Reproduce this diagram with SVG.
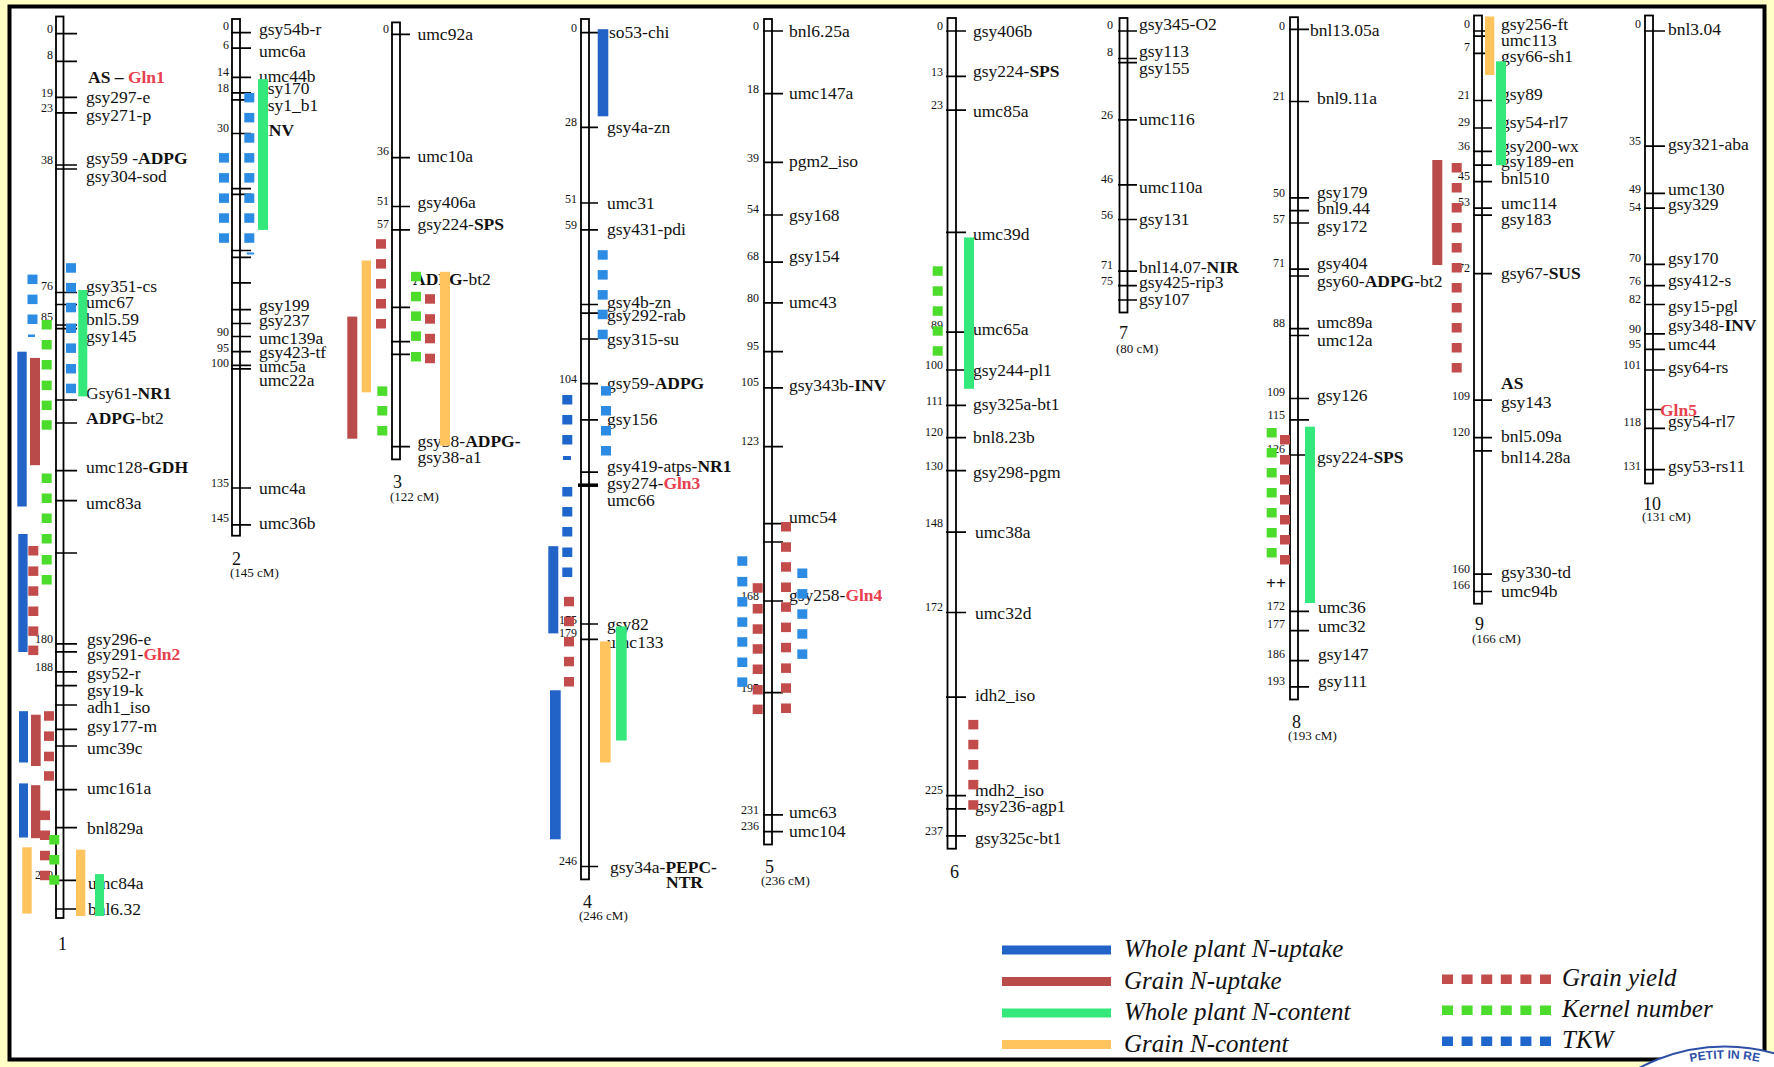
<svg xmlns="http://www.w3.org/2000/svg" width="1774" height="1067" viewBox="0 0 1774 1067">
<style>
.chr{fill:#fff;stroke:#000;stroke-width:1.8}
.tk{stroke:#000;stroke-width:1.7;fill:none}
text{font-family:"Liberation Serif","Times New Roman",serif;fill:#111}
.lb{font-size:17.5px}
.nm{font-size:12px;text-anchor:end}
.cn{font-size:18px}
.cm{font-size:13px}
.b{font-weight:bold}
.r{fill:#E8404E;font-weight:bold}
.wu{fill:#2163C6}
.gu{fill:#B94B4B}
.wc{fill:#34E87C}
.gc{fill:#FFC45E}
.gy{fill:#C24B4B}
.kn{fill:#4CDC2C}
.tw{fill:#2C8CE4}
.tw2{fill:#1F66CC}
.lg{font-size:25px;font-style:italic}
</style>
<defs>
<rect id="sq" width="10" height="9.5"/>
<rect id="lsq" width="11" height="9.5"/>
</defs>
<rect x="0" y="0" width="1774" height="1067" fill="#FFFFC6"/>
<rect x="9.5" y="6.5" width="1755" height="1053" fill="#fff" stroke="#000" stroke-width="4"/>

<g id="chr1">
<rect class="chr" x="56" y="16.5" width="7.5" height="901.5"/>
<path class="tk" d="M55 33.7H77M55 61.3H77M55 97.4H77M55 112.9H77M55 165H77M55 169H77M55 292.5H77M55 304.5H77M55 325H77M55 328.6H77M55 400H77M55 423H77M55 470.7H77M55 500.7H77M55 553H77M55 643.9H77M55 651.9H77M55 671.8H77M55 685.7H77M55 705H77M55 729.4H77M55 746H77M55 789.7H77M55 827.7H77M55 880.4H77M55 909H77"/>
<g class="nm">
<text x="53" y="33">0</text><text x="53" y="59">8</text><text x="53" y="97">19</text><text x="53" y="112.4">23</text><text x="53" y="164">38</text><text x="53" y="289.6">76</text><text x="53" y="321">85</text><text x="53" y="643">180</text><text x="53" y="670.5">188</text><text x="53" y="879">200</text>
</g>
<g class="lb">
<text x="88" y="83.4" class="b">AS – <tspan class="r">Gln1</tspan></text>
<text x="86" y="103.4">gsy297-e</text>
<text x="86" y="121.3">gsy271-p</text>
<text x="86" y="164.3">gsy59 -<tspan class="b">ADPG</tspan></text>
<text x="86" y="182.2">gsy304-sod</text>
<text x="86" y="291.6">gsy351-cs</text>
<text x="86" y="308">umc67</text>
<text x="86" y="325.3">bnl5.59</text>
<text x="86" y="341.5">gsy145</text>
<text x="86" y="399">Gsy61-<tspan class="b">NR1</tspan></text>
<text x="86" y="424"><tspan class="b">ADPG</tspan>-bt2</text>
<text x="86" y="473.3">umc128-<tspan class="b">GDH</tspan></text>
<text x="86" y="509">umc83a</text>
<text x="87" y="644.6">gsy296-e</text>
<text x="87" y="660.3">gsy291-<tspan class="r">Gln2</tspan></text>
<text x="87" y="678.5">gsy52-r</text>
<text x="87" y="696">gsy19-k</text>
<text x="87" y="712.7">adh1_iso</text>
<text x="87" y="731.9">gsy177-m</text>
<text x="87" y="753.5">umc39c</text>
<text x="87" y="794">umc161a</text>
<text x="87" y="833.7">bnl829a</text>
<text x="88" y="888.9">umc84a</text>
<text x="88" y="915">bnl6.32</text>
</g>
<text x="58" y="950" class="cn">1</text>
<use href="#sq" class="tw" x="66" y="263.2"/><use href="#sq" class="tw" x="66" y="282.9"/><use href="#sq" class="tw" x="66" y="302.8"/><use href="#sq" class="tw" x="66" y="323.5"/><use href="#sq" class="tw" x="66" y="343.4"/><use href="#sq" class="tw" x="66" y="364"/><use href="#sq" class="tw" x="66" y="383.7"/>
<use href="#sq" class="tw" x="27.5" y="274.6"/><use href="#sq" class="tw" x="27.5" y="294.6"/><use href="#sq" class="tw" x="27.5" y="314.5"/><rect class="tw" x="28" y="334.5" width="7" height="2.5"/>
<rect class="wc" x="78.3" y="290" width="9" height="106.4"/>
<use href="#sq" class="kn" x="41.7" y="320"/><use href="#sq" class="kn" x="41.7" y="340"/><use href="#sq" class="kn" x="41.7" y="360"/><use href="#sq" class="kn" x="41.7" y="380.6"/><use href="#sq" class="kn" x="41.7" y="400.6"/><use href="#sq" class="kn" x="41.7" y="420.2"/><use href="#sq" class="kn" x="41.7" y="473.5"/><use href="#sq" class="kn" x="41.7" y="493.5"/><use href="#sq" class="kn" x="41.7" y="513.5"/><use href="#sq" class="kn" x="41.7" y="534"/><use href="#sq" class="kn" x="41.7" y="555"/><use href="#sq" class="kn" x="41.7" y="575"/>
<rect class="wu" x="17.3" y="351.7" width="9.4" height="154.8"/>
<rect class="gu" x="30" y="357.9" width="10" height="107.3"/>
<rect class="wu" x="18.3" y="534" width="9.3" height="118"/>
<use href="#sq" class="gy" x="28.3" y="546"/><use href="#sq" class="gy" x="28.3" y="566.4"/><use href="#sq" class="gy" x="28.3" y="586.3"/><use href="#sq" class="gy" x="28.3" y="606.5"/><use href="#sq" class="gy" x="28.3" y="626.4"/><use href="#sq" class="gy" x="28.3" y="645.6"/>
<rect class="wu" x="19" y="711.2" width="9" height="51.3"/>
<rect class="gu" x="31" y="714.7" width="9.7" height="51.3"/>
<use href="#sq" class="gy" x="44" y="711.2"/><use href="#sq" class="gy" x="44" y="731.4"/><use href="#sq" class="gy" x="44" y="751.7"/><use href="#sq" class="gy" x="44" y="771.2"/>
<rect class="wu" x="19" y="783.4" width="9" height="54.1"/>
<rect class="gu" x="31" y="785.2" width="9.3" height="53"/>
<use href="#sq" class="gy" x="40" y="810.6"/><use href="#sq" class="gy" x="40" y="830.5"/><use href="#sq" class="gy" x="40" y="850.8"/><use href="#sq" class="gy" x="40" y="870.7"/>
<use href="#sq" class="kn" x="49.3" y="835"/><use href="#sq" class="kn" x="49.3" y="855"/><use href="#sq" class="kn" x="49.3" y="875.2"/>
<rect class="gc" x="22.3" y="847.3" width="9.4" height="66.3"/>
<rect class="gc" x="76" y="849.7" width="9.3" height="66.3"/>
<rect class="wc" x="95" y="874.1" width="9" height="41.9"/>
</g>

<g id="chr2">
<rect class="chr" x="232" y="19" width="8" height="516.7"/>
<path class="tk" d="M231 32.7H251M231 48.2H251M231 77.4H251M231 92.9H251M231 99.8H251M231 133.5H251M231 188.6H251M231 194.4H251M231 250.5H251M231 257.4H251M231 282.9H251M231 309.7H251M231 323.5H251M231 336.5H251M231 351.7H251M231 365.4H251M231 368.9H251M231 488H251M231 524.8H251"/>
<g class="nm">
<text x="229" y="29.8">0</text><text x="229" y="48.7">6</text><text x="229" y="76.3">14</text><text x="229" y="91.7">18</text><text x="229" y="132">30</text><text x="229" y="336">90</text><text x="229" y="351.6">95</text><text x="229" y="367">100</text><text x="229" y="486.8">135</text><text x="229" y="521.9">145</text>
</g>
<g class="lb">
<text x="259" y="34.8">gsy54b-r</text>
<text x="259" y="56.5">umc6a</text>
<text x="259" y="81.9">umc44b</text>
<text x="259" y="94.3">gsy170</text>
<text x="259" y="110.5">gsy1_b1</text>
<text x="262" y="135.5" class="b">INV</text>
<text x="259" y="311">gsy199</text>
<text x="259" y="325.5">gsy237</text>
<text x="259" y="343.5">umc139a</text>
<text x="259" y="358.2">gsy423-tf</text>
<text x="259" y="372">umc5a</text>
<text x="259" y="385.7">umc22a</text>
<text x="259" y="493.5">umc4a</text>
<text x="259" y="529.2">umc36b</text>
</g>
<text x="232" y="565" class="cn">2</text>
<text x="230" y="577" class="cm">(145 cM)</text>
<rect class="wc" x="258" y="79.1" width="10" height="150.8"/>
<use href="#sq" class="tw" x="244.3" y="92.9"/><use href="#sq" class="tw" x="244.3" y="112.9"/><use href="#sq" class="tw" x="244.3" y="133.2"/><use href="#sq" class="tw" x="244.3" y="153.1"/><use href="#sq" class="tw" x="244.3" y="173.1"/><use href="#sq" class="tw" x="244.3" y="193.4"/><use href="#sq" class="tw" x="244.3" y="213.3"/><use href="#sq" class="tw" x="244.3" y="233.3"/>
<use href="#sq" class="tw" x="219" y="153.1"/><use href="#sq" class="tw" x="219" y="173.1"/><use href="#sq" class="tw" x="219" y="193.4"/><use href="#sq" class="tw" x="219" y="213.3"/><use href="#sq" class="tw" x="219" y="233.3"/>
<rect class="tw" x="246.7" y="252.5" width="7.5" height="2"/>
</g>

<g id="chr3">
<rect class="chr" x="392" y="22.4" width="8" height="437"/>
<path class="tk" d="M391 34.4H410M391 157.6H410M391 206.5H410M391 229.9H410M391 307.3H410M391 341.7H410M391 354.4H410M391 446.7H410"/>
<g class="nm">
<text x="389" y="33">0</text><text x="389" y="155.4">36</text><text x="389" y="205.3">51</text><text x="389" y="228.4">57</text>
</g>
<g class="lb">
<text x="417.5" y="39.9">umc92a</text>
<text x="417.5" y="162.1">umc10a</text>
<text x="417.5" y="207.8">gsy406a</text>
<text x="417.5" y="229.9">gsy224-<tspan class="b">SPS</tspan></text>
<text x="413" y="284.9"><tspan class="b">ADPG</tspan>-bt2</text>
<text x="417.5" y="446.7">gsy38-<tspan class="b">ADPG-</tspan></text>
<text x="417.5" y="463.2">gsy38-a1</text>
</g>
<text x="393" y="488" class="cn">3</text>
<text x="390" y="501" class="cm">(122 cM)</text>
<use href="#sq" class="gy" x="376" y="239.2"/><use href="#sq" class="gy" x="376" y="259.1"/><use href="#sq" class="gy" x="376" y="279"/><use href="#sq" class="gy" x="376" y="299"/><use href="#sq" class="gy" x="376" y="319"/>
<rect class="gc" x="361.7" y="260.5" width="9.3" height="131.8"/>
<rect class="gu" x="347.3" y="316.6" width="10" height="122.1"/>
<use href="#sq" class="kn" x="377.3" y="386.4"/><use href="#sq" class="kn" x="377.3" y="406"/><use href="#sq" class="kn" x="377.3" y="426"/>
<use href="#sq" class="kn" x="411" y="271.8"/><use href="#sq" class="kn" x="411" y="291.8"/><use href="#sq" class="kn" x="411" y="311.4"/><use href="#sq" class="kn" x="411" y="331.4"/><use href="#sq" class="kn" x="411" y="352"/>
<use href="#sq" class="gy" x="425" y="294.2"/><use href="#sq" class="gy" x="425" y="314.2"/><use href="#sq" class="gy" x="425" y="333.8"/><use href="#sq" class="gy" x="425" y="353.7"/>
<rect class="gc" x="440" y="271.8" width="10" height="173.8"/>
</g>

<g id="chr4">
<rect class="chr" x="581" y="19" width="8" height="860.4"/>
<path class="tk" d="M580 32.7H598M580 127.3H598M580 203H598M580 229.9H598M580 304.5H598M580 313.1H598M580 339H598M580 383.7H598M580 419.8H598M580 472.1H598M580 624H598M580 639.3H598M580 866.5H598"/>
<path d="M578 485.2H598" stroke="#000" stroke-width="3.5"/>
<g class="nm">
<text x="577" y="31.5">0</text><text x="577" y="126">28</text><text x="577" y="203">51</text><text x="577" y="229.4">59</text><text x="577" y="382.5">104</text><text x="577" y="624">175</text><text x="577" y="637.4">179</text><text x="577" y="865">246</text>
</g>
<g class="lb">
<text x="609" y="38.2">so53-chi</text>
<text x="607" y="132.8">gsy4a-zn</text>
<text x="607" y="208.5">umc31</text>
<text x="607" y="235.4">gsy431-pdi</text>
<text x="607" y="308.3">gsy4b-zn</text>
<text x="607" y="321.4">gsy292-rab</text>
<text x="607" y="344.5">gsy315-su</text>
<text x="607" y="389.2">gsy59-<tspan class="b">ADPG</tspan></text>
<text x="607" y="425.3">gsy156</text>
<text x="607" y="471.8">gsy419-atps-<tspan class="b">NR1</tspan></text>
<text x="607" y="489">gsy274-<tspan class="r">Gln3</tspan></text>
<text x="607" y="506.2">umc66</text>
<text x="607" y="629.5">gsy82</text>
<text x="607" y="647.6">umc133</text>
<text x="610" y="872.7">gsy34a-<tspan class="b">PEPC-</tspan></text>
<text x="666" y="888.4" class="b">NTR</text>
</g>
<text x="583" y="908" class="cn">4</text>
<text x="579" y="920" class="cm">(246 cM)</text>
<rect class="wu" x="597.7" y="29.2" width="10.6" height="87.1"/>
<use href="#sq" class="tw" x="597.7" y="250.2"/><use href="#sq" class="tw" x="597.7" y="270.1"/><use href="#sq" class="tw" x="597.7" y="290.1"/><use href="#sq" class="tw" x="597.7" y="309.7"/><use href="#sq" class="tw" x="597.7" y="329.7"/>
<use href="#sq" class="tw" x="601" y="386.1"/><use href="#sq" class="tw" x="601" y="406"/><use href="#sq" class="tw" x="601" y="426"/><use href="#sq" class="tw" x="601" y="446"/>
<use href="#sq" class="tw2" x="562.3" y="395"/><use href="#sq" class="tw2" x="562.3" y="415"/><use href="#sq" class="tw2" x="562.3" y="435"/><rect class="tw2" x="563" y="456" width="8" height="4"/><use href="#sq" class="tw2" x="562.3" y="487"/><use href="#sq" class="tw2" x="562.3" y="507"/><use href="#sq" class="tw2" x="562.3" y="527"/><use href="#sq" class="tw2" x="562.3" y="547.5"/><use href="#sq" class="tw2" x="562.3" y="567.5"/>
<rect class="wu" x="548.3" y="546.2" width="10" height="87.2"/>
<use href="#sq" class="gy" x="564" y="596.8"/><use href="#sq" class="gy" x="564" y="616.7"/><use href="#sq" class="gy" x="564" y="636.9"/><use href="#sq" class="gy" x="564" y="656.8"/><use href="#sq" class="gy" x="564" y="677"/>
<rect class="wu" x="550" y="690.3" width="10.7" height="149"/>
<rect class="gc" x="600" y="641.4" width="10.7" height="121.1"/>
<rect class="wc" x="616" y="626.4" width="10.7" height="114.1"/>
</g>

<g id="chr5">
<rect class="chr" x="764" y="19" width="8" height="825.5"/>
<path class="tk" d="M763 31H783M763 93.6H783M763 162.4H783M763 215H783M763 262.2H783M763 302.8H783M763 351.7H783M763 387.8H783M763 446.7H783M763 523.7H783M763 542H783M763 601H783M763 692.7H783M763 814.8H783M763 831.6H783"/>
<g class="nm">
<text x="759" y="29.8">0</text><text x="759" y="92.8">18</text><text x="759" y="162.3">39</text><text x="759" y="213.2">54</text><text x="759" y="260.4">68</text><text x="759" y="301.7">80</text><text x="759" y="349.8">95</text><text x="759" y="386">105</text><text x="759" y="445.2">123</text><text x="759" y="600">168</text><text x="759" y="692.2">195</text><text x="759" y="813.6">231</text><text x="759" y="830.4">236</text>
</g>
<g class="lb">
<text x="789" y="36.5">bnl6.25a</text>
<text x="789" y="99.1">umc147a</text>
<text x="789" y="167.2">pgm2_iso</text>
<text x="789" y="220.5">gsy168</text>
<text x="789" y="261.9">gsy154</text>
<text x="789" y="307.5">umc43</text>
<text x="789" y="390.9">gsy343b-<tspan class="b">INV</tspan></text>
<text x="789" y="523.4">umc54</text>
<text x="789" y="600.5">gsy258-<tspan class="r">Gln4</tspan></text>
<text x="789" y="817.9">umc63</text>
<text x="789" y="836.7">umc104</text>
</g>
<text x="765" y="873" class="cn">5</text>
<text x="761" y="885" class="cm">(236 cM)</text>
<use href="#sq" class="gy" x="781" y="522"/><use href="#sq" class="gy" x="781" y="542.3"/><use href="#sq" class="gy" x="781" y="562.2"/><use href="#sq" class="gy" x="781" y="582.5"/><use href="#sq" class="gy" x="781" y="602.3"/><use href="#sq" class="gy" x="781" y="622.6"/><use href="#sq" class="gy" x="781" y="642.8"/><use href="#sq" class="gy" x="781" y="663.4"/><use href="#sq" class="gy" x="781" y="683.3"/><use href="#sq" class="gy" x="781" y="703.5"/>
<use href="#sq" class="gy" x="752.7" y="583.2"/><use href="#sq" class="gy" x="752.7" y="604"/><use href="#sq" class="gy" x="752.7" y="624.3"/><use href="#sq" class="gy" x="752.7" y="644.2"/><use href="#sq" class="gy" x="752.7" y="664.5"/><use href="#sq" class="gy" x="752.7" y="685"/><use href="#sq" class="gy" x="752.7" y="704.6"/>
<use href="#sq" class="tw" x="737.3" y="556.3"/><use href="#sq" class="tw" x="737.3" y="576.9"/><use href="#sq" class="tw" x="737.3" y="597.1"/><use href="#sq" class="tw" x="737.3" y="617.3"/><use href="#sq" class="tw" x="737.3" y="637.2"/><use href="#sq" class="tw" x="737.3" y="657.5"/><use href="#sq" class="tw" x="737.3" y="677.4"/>
<use href="#sq" class="tw" x="797.3" y="568.5"/><use href="#sq" class="tw" x="797.3" y="589.1"/><use href="#sq" class="tw" x="797.3" y="609.3"/><use href="#sq" class="tw" x="797.3" y="629.2"/><use href="#sq" class="tw" x="797.3" y="649.4"/>
</g>

<g id="chr6">
<rect class="chr" x="947.5" y="18" width="8.5" height="830.7"/>
<path class="tk" d="M946 31H966M946 76.4H966M946 110.1H966M946 232.3H966M946 332.1H966M946 370H966M946 405.4H966M946 437.7H966M946 470.7H966M946 532.2H966M946 612.5H966M946 697.2H966M946 795.6H966M946 808.9H966M946 835.8H966"/>
<g class="nm">
<text x="943" y="29.8">0</text><text x="943" y="75.6">13</text><text x="943" y="109">23</text><text x="943" y="329.2">89</text><text x="943" y="368.8">100</text><text x="943" y="404.9">111</text><text x="943" y="435.9">120</text><text x="943" y="470.3">130</text><text x="943" y="527">148</text><text x="943" y="611.2">172</text><text x="943" y="794.4">225</text><text x="943" y="834.5">237</text>
</g>
<g class="lb">
<text x="973" y="36.5">gsy406b</text>
<text x="973" y="77.1">gsy224-<tspan class="b">SPS</tspan></text>
<text x="973" y="117.3">umc85a</text>
<text x="973" y="239.5">umc39d</text>
<text x="973" y="335.2">umc65a</text>
<text x="973" y="375.5">gsy244-pl1</text>
<text x="973" y="409.8">gsy325a-bt1</text>
<text x="973" y="443.2">bnl8.23b</text>
<text x="973" y="477.6">gsy298-pgm</text>
<text x="975" y="537.7">umc38a</text>
<text x="975" y="619">umc32d</text>
<text x="975" y="700.7">idh2_iso</text>
<text x="975" y="795.9">mdh2_iso</text>
<text x="975" y="812.3">gsy236-agp1</text>
<text x="975" y="843.7">gsy325c-bt1</text>
</g>
<text x="950" y="878" class="cn">6</text>
<rect class="wc" x="964" y="237.4" width="10" height="151.4"/>
<use href="#sq" class="kn" x="932.7" y="266.3"/><use href="#sq" class="kn" x="932.7" y="286.3"/><use href="#sq" class="kn" x="932.7" y="306.3"/><use href="#sq" class="kn" x="932.7" y="326.2"/><use href="#sq" class="kn" x="932.7" y="346.2"/>
<use href="#sq" class="gy" x="968.3" y="719.9"/><use href="#sq" class="gy" x="968.3" y="739.8"/><use href="#sq" class="gy" x="968.3" y="760"/><use href="#sq" class="gy" x="968.3" y="779.9"/><use href="#sq" class="gy" x="968.3" y="800.2"/>
</g>

<g id="chr7">
<rect class="chr" x="1119.5" y="18" width="8" height="294.5"/>
<path class="tk" d="M1118 31H1137M1118 58.5H1137M1118 62.6H1137M1118 119.8H1137M1118 184.8H1137M1118 219.5H1137M1118 271.2H1137M1118 285.6H1137M1118 300H1137"/>
<g class="nm">
<text x="1113" y="28.8">0</text><text x="1113" y="56.3">8</text><text x="1113" y="119.3">26</text><text x="1113" y="183">46</text><text x="1113" y="219">56</text><text x="1113" y="269">71</text><text x="1113" y="284.5">75</text>
</g>
<g class="lb">
<text x="1139" y="30.3">gsy345-O2</text>
<text x="1139" y="57.1">gsy113</text>
<text x="1139" y="74.3">gsy155</text>
<text x="1139" y="125.3">umc116</text>
<text x="1139" y="193">umc110a</text>
<text x="1139" y="225">gsy131</text>
<text x="1139" y="273.2">bnl14.07-<tspan class="b">NIR</tspan></text>
<text x="1139" y="288.4">gsy425-rip3</text>
<text x="1139" y="304.9">gsy107</text>
</g>
<text x="1119" y="339" class="cn">7</text>
<text x="1116" y="353" class="cm">(80 cM)</text>
</g>

<g id="chr8">
<rect class="chr" x="1290" y="17.2" width="8" height="682.3"/>
<path class="tk" d="M1289 29.3H1309M1289 101.5H1309M1289 197.9H1309M1289 210.6H1309M1289 223H1309M1289 269.1H1309M1289 276H1309M1289 328.6H1309M1289 335.5H1309M1289 398.5H1309M1289 419.8H1309M1289 455H1309M1289 611.4H1309M1289 630.6H1309M1289 660.6H1309M1289 686.8H1309"/>
<g class="nm">
<text x="1285" y="29.8">0</text><text x="1285" y="100.4">21</text><text x="1285" y="196.7">50</text><text x="1285" y="222.5">57</text><text x="1285" y="267.2">71</text><text x="1285" y="326.8">88</text><text x="1285" y="396.3">109</text><text x="1285" y="418.7">115</text><text x="1285" y="453.1">126</text><text x="1285" y="609.5">172</text><text x="1285" y="628">177</text><text x="1285" y="658.3">186</text><text x="1285" y="685.2">193</text>
</g>
<g class="lb">
<text x="1310" y="35.8">bnl13.05a</text>
<text x="1317" y="103.5">bnl9.11a</text>
<text x="1317" y="197.5">gsy179</text>
<text x="1317" y="213.7">bnl9.44</text>
<text x="1317" y="231.9">gsy172</text>
<text x="1317" y="268.7">gsy404</text>
<text x="1317" y="287">gsy60-<tspan class="b">ADPG</tspan>-bt2</text>
<text x="1317" y="328.3">umc89a</text>
<text x="1317" y="345.5">umc12a</text>
<text x="1317" y="401.2">gsy126</text>
<text x="1317" y="463.2">gsy224-<tspan class="b">SPS</tspan></text>
<text x="1318" y="612.7">umc36</text>
<text x="1318" y="631.9">umc32</text>
<text x="1318" y="659.8">gsy147</text>
<text x="1318" y="686.7">gsy111</text>
</g>
<text x="1292" y="727.5" class="cn">8</text>
<text x="1288" y="739.6" class="cm">(193 cM)</text>
<rect class="wc" x="1305" y="426.7" width="10" height="176.3"/>
<use href="#sq" class="kn" x="1266.7" y="428"/><use href="#sq" class="kn" x="1266.7" y="448"/><use href="#sq" class="kn" x="1266.7" y="468"/><use href="#sq" class="kn" x="1266.7" y="488"/><use href="#sq" class="kn" x="1266.7" y="508"/><use href="#sq" class="kn" x="1266.7" y="528"/><use href="#sq" class="kn" x="1266.7" y="548"/>
<use href="#sq" class="gy" x="1280" y="435"/><use href="#sq" class="gy" x="1280" y="455"/><use href="#sq" class="gy" x="1280" y="475"/><use href="#sq" class="gy" x="1280" y="495"/><use href="#sq" class="gy" x="1280" y="515"/><use href="#sq" class="gy" x="1280" y="535"/><use href="#sq" class="gy" x="1280" y="555"/>
<text x="1266" y="589" class="lb b">++</text>
</g>

<g id="chr9">
<rect class="chr" x="1474" y="15.5" width="8" height="588.2"/>
<path class="tk" d="M1473 31H1492M1473 36.1H1492M1473 53.3H1492M1473 100.5H1492M1473 128H1492M1473 151.4H1492M1473 165.2H1492M1473 181.7H1492M1473 208.2H1492M1473 215.1H1492M1473 273.6H1492M1473 400.2H1492M1473 437.7H1492M1473 450.8H1492M1473 574.1H1492M1473 591.5H1492"/>
<g class="nm">
<text x="1470" y="28.1">0</text><text x="1470" y="50.5">7</text><text x="1470" y="98.6">21</text><text x="1470" y="126.2">29</text><text x="1470" y="150.2">36</text><text x="1470" y="179.5">45</text><text x="1470" y="206.3">53</text><text x="1470" y="271.7">72</text><text x="1470" y="399.7">109</text><text x="1470" y="435.9">120</text><text x="1470" y="572.8">160</text><text x="1470" y="588.5">166</text>
</g>
<g class="lb">
<text x="1501" y="29.6">gsy256-ft</text>
<text x="1501" y="46.1">umc113</text>
<text x="1501" y="62.3">gsy66-sh1</text>
<text x="1501" y="100.1">gsy89</text>
<text x="1501" y="127.7">gsy54-rl7</text>
<text x="1501" y="151.7">gsy200-wx</text>
<text x="1501" y="167.2">gsy189-en</text>
<text x="1501" y="183.8">bnl510</text>
<text x="1501" y="208.5">umc114</text>
<text x="1501" y="225">gsy183</text>
<text x="1501" y="279.1">gsy67-<tspan class="b">SUS</tspan></text>
<text x="1501" y="389.2" class="b">AS</text>
<text x="1501" y="408.1">gsy143</text>
<text x="1501" y="441.8">bnl5.09a</text>
<text x="1501" y="463.2">bnl14.28a</text>
<text x="1501" y="577.8">gsy330-td</text>
<text x="1501" y="597">umc94b</text>
</g>
<text x="1475" y="630" class="cn">9</text>
<text x="1472" y="642.6" class="cm">(166 cM)</text>
<rect class="gu" x="1432.3" y="160" width="10" height="105"/>
<use href="#sq" class="gy" x="1451.7" y="163"/><use href="#sq" class="gy" x="1451.7" y="183"/><use href="#sq" class="gy" x="1451.7" y="203"/><use href="#sq" class="gy" x="1451.7" y="223"/><use href="#sq" class="gy" x="1451.7" y="243"/><use href="#sq" class="gy" x="1451.7" y="263"/><use href="#sq" class="gy" x="1451.7" y="283"/><use href="#sq" class="gy" x="1451.7" y="303"/><use href="#sq" class="gy" x="1451.7" y="323"/><use href="#sq" class="gy" x="1451.7" y="343"/><use href="#sq" class="gy" x="1451.7" y="363"/>
<rect class="gc" x="1485" y="16.5" width="9.3" height="58.5"/>
<rect class="wc" x="1496" y="61.3" width="10" height="103.9"/>
</g>

<g id="chr10">
<rect class="chr" x="1645" y="15.5" width="8" height="468"/>
<path class="tk" d="M1644 31H1665M1644 146.2H1665M1644 193.4H1665M1644 208.2H1665M1644 264.3H1665M1644 285.6H1665M1644 304.5H1665M1644 333.8H1665M1644 349.3H1665M1644 370H1665M1644 409.5H1661M1644 428.4H1665M1644 469.7H1665"/>
<g class="nm">
<text x="1641" y="28.1">0</text><text x="1641" y="145.1">35</text><text x="1641" y="192.6">49</text><text x="1641" y="210.5">54</text><text x="1641" y="262.1">70</text><text x="1641" y="284.5">76</text><text x="1641" y="303.4">82</text><text x="1641" y="332.6">90</text><text x="1641" y="348.1">95</text><text x="1641" y="368.8">101</text><text x="1641" y="425.5">118</text><text x="1641" y="470.3">131</text>
</g>
<g class="lb">
<text x="1668" y="34.8">bnl3.04</text>
<text x="1668" y="150">gsy321-aba</text>
<text x="1668" y="194.8">umc130</text>
<text x="1668" y="210.2">gsy329</text>
<text x="1668" y="263.5">gsy170</text>
<text x="1668" y="286">gsy412-s</text>
<text x="1668" y="311.5">gsy15-pgl</text>
<text x="1668" y="330.5">gsy348-<tspan class="b">INV</tspan></text>
<text x="1668" y="349.5">umc44</text>
<text x="1668" y="373">gsy64-rs</text>
<text x="1660" y="415.5" class="r">Gln5</text>
<text x="1668" y="427">gsy54-rl7</text>
<text x="1668" y="471.8">gsy53-rs11</text>
</g>
<text x="1643" y="510" class="cn">10</text>
<text x="1642" y="521" class="cm">(131 cM)</text>
</g>

<g id="connectors"></g>

<g id="legend">
<rect class="wu" x="1002" y="945.5" width="109" height="9"/>
<rect class="gu" x="1002" y="977" width="109" height="9"/>
<rect class="wc" x="1002" y="1008.5" width="109" height="9"/>
<rect class="gc" x="1002" y="1040" width="109" height="9"/>
<text x="1124" y="957" class="lg">Whole plant N-uptake</text>
<text x="1124" y="988.5" class="lg">Grain N-uptake</text>
<text x="1124" y="1020" class="lg">Whole plant N-content</text>
<text x="1124" y="1051.5" class="lg">Grain N-content</text>
<use href="#lsq" class="gy" x="1442" y="974.5"/><use href="#lsq" class="gy" x="1461.6" y="974.5"/><use href="#lsq" class="gy" x="1481.2" y="974.5"/><use href="#lsq" class="gy" x="1500.8" y="974.5"/><use href="#lsq" class="gy" x="1520.4" y="974.5"/><use href="#lsq" class="gy" x="1540" y="974.5"/>
<use href="#lsq" class="kn" x="1442" y="1005.5"/><use href="#lsq" class="kn" x="1461.6" y="1005.5"/><use href="#lsq" class="kn" x="1481.2" y="1005.5"/><use href="#lsq" class="kn" x="1500.8" y="1005.5"/><use href="#lsq" class="kn" x="1520.4" y="1005.5"/><use href="#lsq" class="kn" x="1540" y="1005.5"/>
<use href="#lsq" class="tw2" x="1442" y="1036.5"/><use href="#lsq" class="tw2" x="1461.6" y="1036.5"/><use href="#lsq" class="tw2" x="1481.2" y="1036.5"/><use href="#lsq" class="tw2" x="1500.8" y="1036.5"/><use href="#lsq" class="tw2" x="1520.4" y="1036.5"/><use href="#lsq" class="tw2" x="1540" y="1036.5"/>
<text x="1562" y="986" class="lg">Grain yield</text>
<text x="1562" y="1017" class="lg">Kernel number</text>
<text x="1562" y="1048" class="lg">TKW</text>
</g>

<g id="stamp">
<defs><path id="arc" d="M1555 1228.5A170 170 0 0 1 1895 1228.5"/></defs>
<circle cx="1725" cy="1228.5" r="182" fill="#fff" stroke="#2E4FA8" stroke-width="2"/>
<text style="font-family:'Liberation Sans',Arial,sans-serif;font-size:12px;font-weight:bold;fill:#2E4FA8"><textPath href="#arc" startOffset="232">PETIT IN RE</textPath></text>
</g>
</svg>
